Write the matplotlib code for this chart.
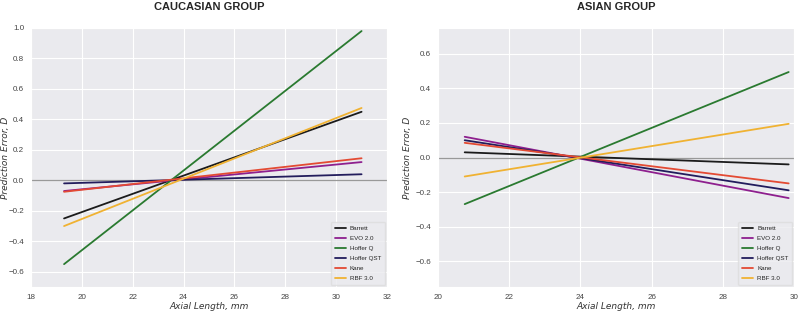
import matplotlib.pyplot as plt
import seaborn as sns

sns.set_style('darkgrid')
plt.rcParams['font.family'] = ['Liberation Sans', 'DejaVu Sans']

formulas = ['Barrett', 'EVO 2.0', 'Hoffer Q', 'Hoffer QST', 'Kane', 'RBF 3.0']
colors = ['#1b1b1b', '#8e1f8e', '#2a7a30', '#221c5c', '#e34a33', '#f0b232']

# endpoints of the fitted lines (axial length, prediction error)
cau_x = [19.3, 31.0]
cau_y = {
    'Barrett': [-0.25, 0.45],
    'EVO 2.0': [-0.07, 0.12],
    'Hoffer Q': [-0.55, 0.98],
    'Hoffer QST': [-0.02, 0.04],
    'Kane': [-0.075, 0.145],
    'RBF 3.0': [-0.30, 0.475],
}
asn_x = [20.75, 29.85]
asn_y = {
    'Barrett': [0.03, -0.04],
    'EVO 2.0': [0.12, -0.235],
    'Hoffer Q': [-0.27, 0.495],
    'Hoffer QST': [0.10, -0.19],
    'Kane': [0.085, -0.15],
    'RBF 3.0': [-0.11, 0.195],
}

fig = plt.figure(figsize=(7.99, 3.11), dpi=100)
ax1 = fig.add_axes([31/799, 1 - 287/311, 356/799, 259/311])
ax2 = fig.add_axes([438/799, 1 - 287/311, 356/799, 259/311])

panels = [(ax1, cau_x, cau_y, 'CAUCASIAN GROUP'),
          (ax2, asn_x, asn_y, 'ASIAN GROUP')]
for ax, xs, ys, title in panels:
    ax.set_facecolor('#eaeaee')
    ax.axhline(0, color='#999999', lw=0.9, zorder=1)
    for name, c in zip(formulas, colors):
        ax.plot(xs, ys[name], color=c, lw=1.3, label=name, zorder=2)
    ax.set_title(title, fontsize=8, fontweight='bold', pad=13)
    ax.set_xlabel('Axial Length, mm', fontsize=6.5, style='italic', color='#333333',
                  labelpad=1, family='DejaVu Sans')
    ax.set_ylabel('Prediction Error, D', fontsize=6.5, style='italic', color='#333333',
                  family='DejaVu Sans')
    ax.tick_params(labelsize=5.8, colors='#444444', pad=1.5)
    ax.grid(color='white', lw=0.8)
    leg = ax.legend(loc='lower right', fontsize=4.5, frameon=True, handlelength=1.8,
                    labelspacing=0.75, borderpad=0.6, handletextpad=0.6,
                    borderaxespad=0.3)
    leg.get_frame().set_facecolor('#eaeaee')
    leg.get_frame().set_edgecolor('#dddddd')

ax1.yaxis.set_label_coords(-0.058, 0.5)
ax2.yaxis.set_label_coords(-0.072, 0.5)

ax1.set_xlim(18, 32)
ax1.set_ylim(-0.7, 1.0)
ax1.set_xticks([18, 20, 22, 24, 26, 28, 30, 32])
ax1.set_yticks([-0.6, -0.4, -0.2, 0.0, 0.2, 0.4, 0.6, 0.8, 1.0])

ax2.set_xlim(20, 30)
ax2.set_ylim(-0.75, 0.75)
ax2.set_xticks([20, 22, 24, 26, 28, 30])
ax2.set_yticks([-0.6, -0.4, -0.2, 0.0, 0.2, 0.4, 0.6])

fig.savefig('out.png', dpi=100)
